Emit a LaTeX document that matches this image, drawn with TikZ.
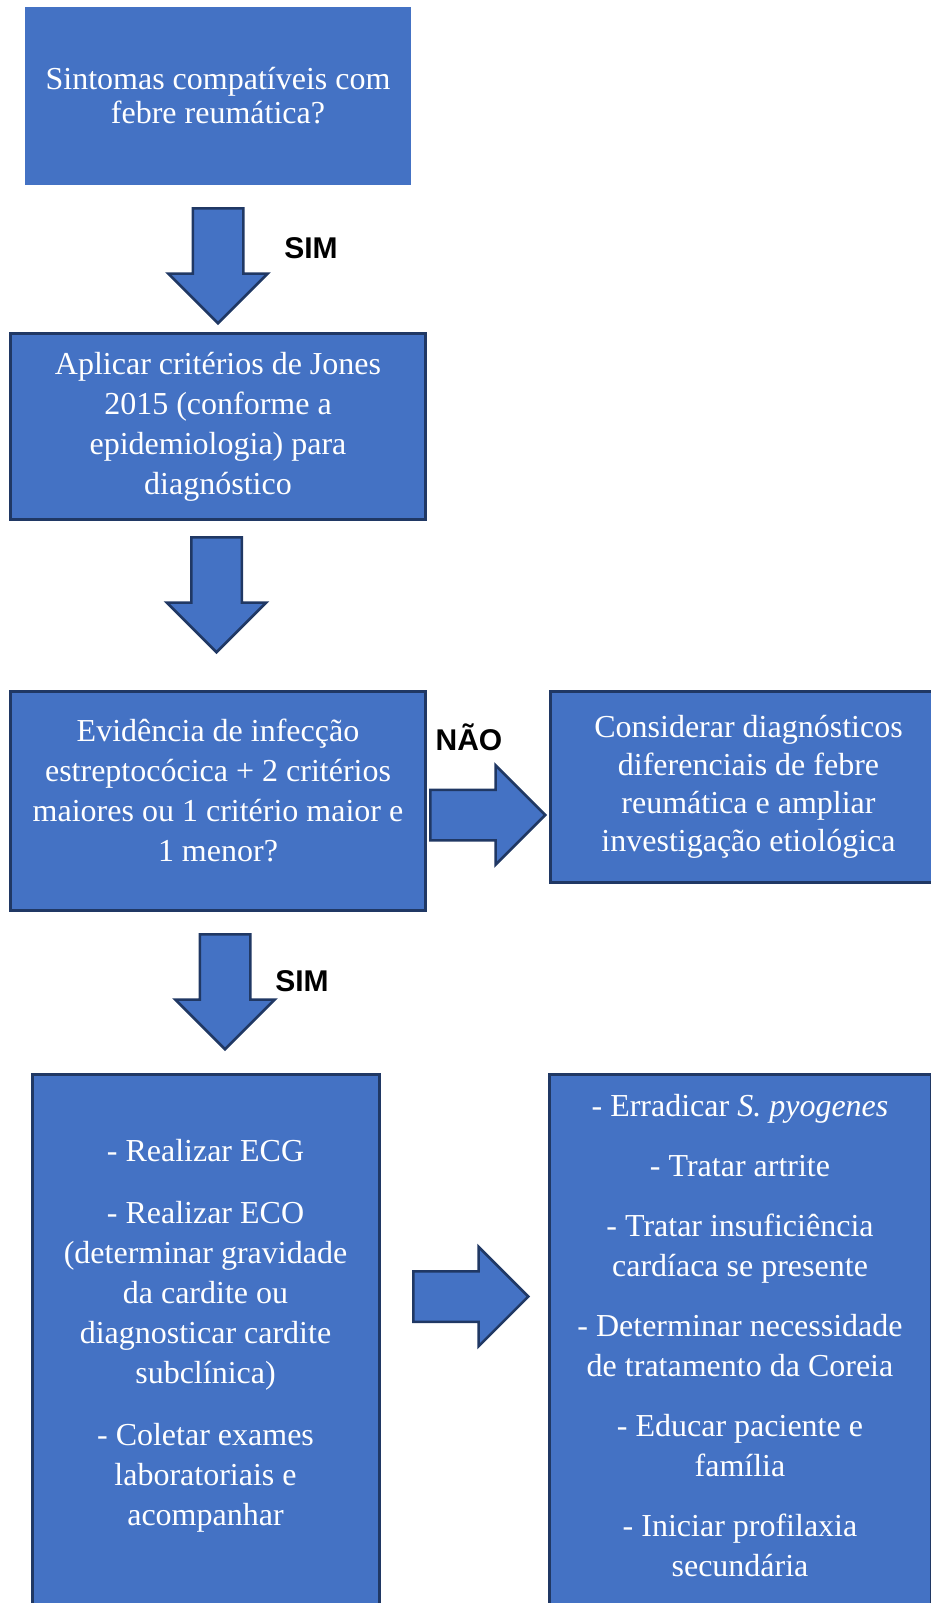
\documentclass[tikz,border=0pt]{standalone}
\usepackage{fontspec}
\setmainfont{Liberation Serif}
\setsansfont{Liberation Sans}
\usepackage{tikz}
\usetikzlibrary{shapes.arrows, positioning}

\definecolor{boxblue}{HTML}{4472C4}
\definecolor{boxline}{HTML}{203864}

\begin{document}
\begin{tikzpicture}[
    x=1pt, y=1pt,
    box/.style={rectangle, fill=boxblue, text=white, align=center, inner sep=0pt, font=\fontsize{32}{40}\selectfont},
    panel/.style={box, draw=boxline, line width=3pt},
    listtext/.style={text=white, align=center, inner sep=0pt, font=\fontsize{32}{40}\selectfont},
    blockarrow/.style={single arrow, draw=boxline, fill=boxblue, line width=2.5pt, inner xsep=0pt, inner ysep=24pt, single arrow head extend=24.5pt, minimum height=115pt, anchor=tail},
    answer/.style={font=\sffamily\bfseries\fontsize{30}{36}\selectfont},
]
\useasboundingbox (0,0) rectangle (931,-1603);
\clip (0,0) rectangle (931,-1603);

% Boxes
\node[box, minimum width=386pt, minimum height=178pt, font=\fontsize{32}{34}\selectfont] (symptoms) at (218,-96) {Sintomas compatíveis com\\febre reumática?};
\node[panel, minimum width=415pt, minimum height=186pt, below=147pt of symptoms] (jones) {Aplicar critérios de Jones\\2015 (conforme a\\epidemiologia) para\\diagnóstico};
\node[panel, minimum width=415pt, minimum height=219pt, below=169pt of jones] (evidence) {};
\node[listtext] (evidencetext) at ([yshift=11pt]evidence.center) {Evidência de infecção\\estreptocócica + 2 critérios\\maiores ou 1 critério maior e\\1 menor?};
\node[panel, minimum width=396pt, minimum height=191pt, font=\fontsize{32}{38}\selectfont, anchor=north west] (differential) at ([xshift=122pt]evidence.north east) {Considerar diagnósticos\\diferenciais de febre\\reumática e ampliar\\investigação etiológica};

% Bottom boxes (run past the page edge)
\node[panel, minimum width=347pt, minimum height=600pt, anchor=north] (exams) at (205.5,-1073) {};
\node[listtext, below=66pt of exams.north] (examstext) {- Realizar ECG\\[22pt]- Realizar ECO\\(determinar gravidade\\da cardite ou\\diagnosticar cardite\\subclínica)\\[22pt]- Coletar exames\\laboratoriais e\\acompanhar};
\node[panel, minimum width=382pt, minimum height=600pt, anchor=north] (treatment) at (740,-1073) {};
\node[listtext, below=21pt of treatment.north] (treattext) {- Erradicar \textit{S. pyogenes}\\[20pt]- Tratar artrite\\[20pt]- Tratar insuficiência\\cardíaca se presente\\[20pt]- Determinar necessidade\\de tratamento da Coreia\\[20pt]- Educar paciente e\\família\\[20pt]- Iniciar profilaxia\\secundária};

% Block arrows
\node[blockarrow, rotate=-90] (yes1) at (218,-207) {};
\node[blockarrow, rotate=-90] (next) at (216.5,-536) {};
\node[blockarrow, rotate=-90] (yes2) at (225,-933) {};
\node[blockarrow] (no) at (429,-815) {};
\node[blockarrow] (then) at (412,-1296.5) {};

% Answers
\node[answer] (sim1) at (311,-248) {SIM};
\node[answer] (sim2) at (302,-981) {SIM};
\node[answer] (nao) at (469,-737) {NÃO};

\end{tikzpicture}
\end{document}
